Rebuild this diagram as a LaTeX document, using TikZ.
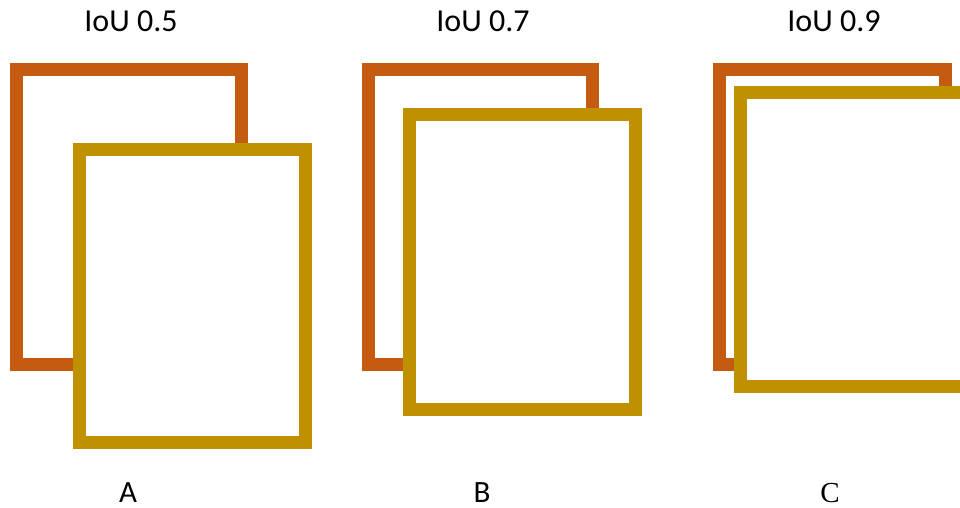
\documentclass[tikz,border=0pt]{standalone}
\usepackage{fontspec}
\setmainfont{Carlito}
\newfontfamily\capfont{Liberation Serif}
\usepackage{tikz}
\usetikzlibrary{positioning}

\definecolor{gtorange}{HTML}{C55A11}
\definecolor{predgold}{HTML}{BF9000}

\begin{document}
\begin{tikzpicture}[x=1pt, y=-1pt,
        gtbox/.style={draw=gtorange, line width=13pt, fill=white},
        predbox/.style={draw=predgold, line width=13pt, fill=white},
        iou/.style={anchor=base, font=\fontsize{32}{36}\selectfont, inner sep=0pt},
        caselabel/.style={anchor=base, font=\fontsize{31}{34}\selectfont, inner sep=0pt}]
        \useasboundingbox (0,0) rectangle (960,508);
        \begin{scope}
            \clip (0,0) rectangle (960,508);
            % case A
            \draw[gtbox] (16.5,69.5) rectangle (241.5,364.5);
            \draw[predbox] (79.5,149.5) rectangle (305.5,442.5);
            % case B
            \draw[gtbox] (368.5,69.5) rectangle (592.5,364.5);
            \draw[predbox] (409.5,114.5) rectangle (635.5,409.5);
            % case C
            \draw[gtbox] (719.5,69.5) rectangle (945.5,364.5);
            \draw[predbox] (740.5,92.5) rectangle (966.5,386.5);
        \end{scope}
        % overlap values
        \node[iou] (iouA) at (131,32) {IoU 0.5};
        \node[iou] (iouB) at (483,32) {IoU 0.7};
        \node[iou] (iouC) at (834,32) {IoU 0.9};
        \node[caselabel] (A) at (128,502) {A};
        \node[caselabel] (B) at (482,502) {B};
        \node[caselabel, font=\capfont\fontsize{29}{34}\selectfont] (C) at (830,502) {C};
    \end{tikzpicture}
\end{document}
